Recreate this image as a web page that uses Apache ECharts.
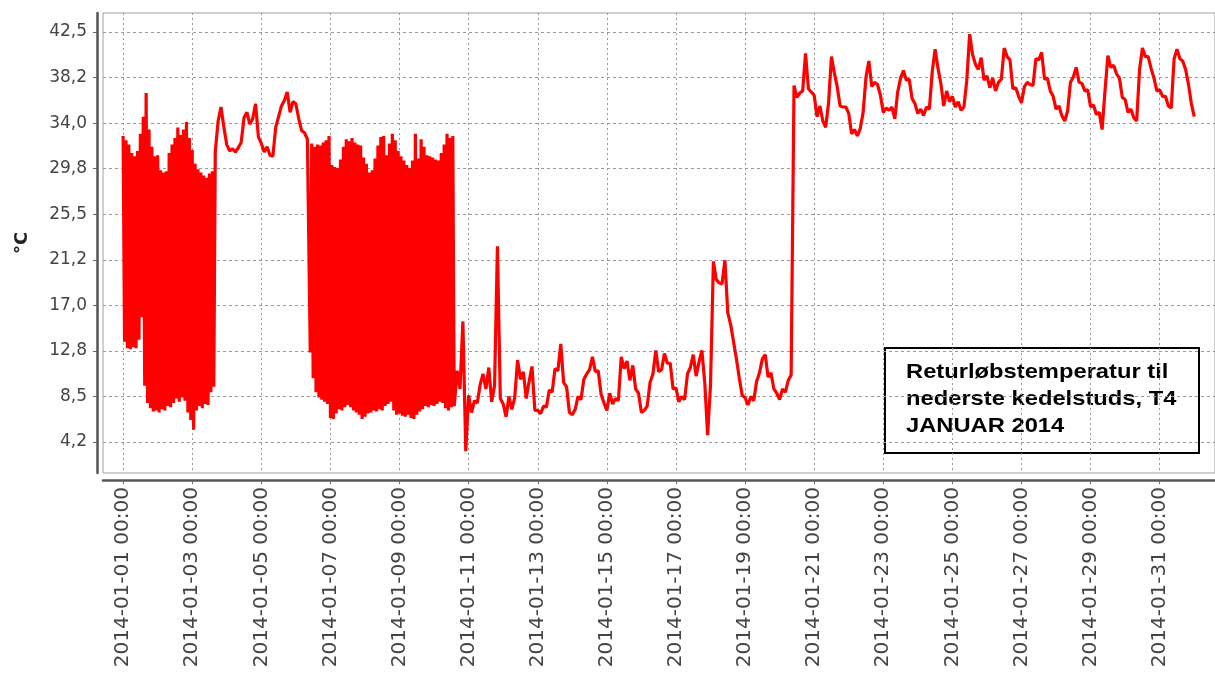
<!DOCTYPE html>
<html>
<head>
<meta charset="utf-8">
<title>Returløbstemperatur T4 januar 2014</title>
<script src="https://cdn.jsdelivr.net/npm/echarts/dist/echarts.min.js"></script>
<style>
html, body { margin: 0; padding: 0; background: #fff; }
#main { width: 1215px; height: 674px; }
</style>
</head>
<body>
<div id="main"></div>
<script>
// måleværdier (°C)
// hver serie: [starttime efter 2014-01-01 00:00, trin i timer, værdier]
var oscJan1 = [32.8, 13.6, 32.4, 13.0, 32.0, 12.9, 31.2, 13.1, 30.9, 13.0,
    31.4, 13.8, 33.0, 15.9, 34.6, 9.5, 36.8, 7.9, 33.4, 7.4,
    31.8, 7.1, 30.9, 7.2, 31.0, 7.0, 29.6, 7.3, 29.4, 7.2,
    29.5, 7.6, 31.2, 7.5, 32.0, 7.9, 32.6, 8.3, 33.6, 8.0,
    32.9, 8.4, 33.4, 8.1, 34.1, 7.0, 32.6, 6.3, 31.5, 5.4,
    30.2, 7.2, 29.7, 7.6, 29.4, 7.4, 29.1, 7.8, 28.9, 7.7,
    29.3, 8.9, 29.5, 9.4];
var warmJan3 = [31.3, 34.2, 35.5, 33.6, 32.0, 31.4, 31.6, 31.3, 31.7, 32.2,
    34.5, 35.0, 33.9, 34.4, 35.8, 32.7, 32.1, 31.3, 31.8, 31.0,
    30.9, 33.6, 34.6, 35.6, 36.1, 36.9, 35.0, 36.0, 35.8, 34.4,
    33.3, 33.1, 32.5];
var oscJan6 = [32.5, 12.6, 32.1, 10.2, 31.8, 8.9, 32.0, 8.4, 31.9, 8.2,
    32.2, 8.0, 32.4, 7.8, 32.8, 6.5, 30.1, 6.4, 29.9, 6.9,
    29.8, 7.3, 30.6, 7.2, 31.8, 7.5, 32.5, 7.7, 32.3, 7.5,
    32.6, 7.2, 32.2, 7.0, 32.0, 6.8, 31.9, 6.4, 30.8, 6.6,
    30.2, 6.9, 29.4, 7.0, 29.6, 7.2, 30.7, 7.1, 31.9, 7.3,
    32.7, 7.2, 32.8, 7.6, 31.0, 7.8, 32.1, 8.0, 33.0, 7.2,
    32.4, 6.8, 31.4, 6.9, 30.9, 6.7, 30.5, 6.6, 30.1, 6.8,
    29.8, 6.5, 30.5, 6.4, 33.0, 6.8, 30.7, 7.1, 32.5, 7.3,
    31.8, 7.6, 31.0, 7.5, 30.9, 7.7, 30.8, 7.6, 30.6, 7.8,
    30.5, 8.0, 31.2, 7.9, 32.0, 7.4, 33.0, 7.2, 32.6, 7.5,
    32.8, 7.6];
var coldJan10 = [10.9, 9.2, 15.5, 3.4, 8.6, 7.0, 8.1, 7.9, 9.6, 10.6,
    9.2, 11.2, 8.0, 9.5, 22.5, 8.3, 7.8, 6.6, 8.5, 7.3,
    8.4, 11.9, 10.1, 10.8, 8.3, 9.9, 11.3, 7.2, 7.2, 6.9,
    7.6, 7.5, 9.1, 8.9, 11.1, 10.9, 13.4, 9.8, 9.4, 7.0,
    6.8, 7.3, 8.5, 8.2, 10.1, 10.6, 11.0, 12.2, 10.8, 10.9,
    8.7, 7.9, 7.2, 8.8, 7.8, 8.3, 8.1, 12.2, 11.1, 11.8,
    10.0, 11.4, 9.2, 8.8, 7.0, 7.2, 7.6, 9.8, 10.6, 12.8,
    10.8, 11.0, 12.5, 11.6, 11.6, 9.2, 9.3, 8.0, 8.5, 8.2,
    10.6, 11.2, 12.4, 10.4, 11.7, 12.8, 9.8, 4.9, 9.6, 21.1,
    19.4, 19.1, 19.0, 21.2, 16.3, 15.2, 13.6, 12.0, 10.2, 8.6,
    8.4, 7.7, 8.5, 8.1, 9.9, 10.7, 12.0, 12.4, 10.3, 10.7,
    9.2, 8.8, 8.2, 9.2, 8.9, 10.0, 10.5];
var warmJan20 = [37.5, 36.4, 36.8, 37.0, 40.5, 37.2, 36.9, 36.6, 34.6, 35.6,
    34.2, 33.6, 35.9, 40.2, 38.7, 37.4, 35.6, 35.5, 35.5, 34.9,
    33.0, 33.4, 32.8, 33.5, 35.0, 38.3, 39.8, 37.4, 37.8, 37.6,
    36.6, 35.0, 35.4, 35.2, 35.5, 34.4, 36.9, 38.2, 38.9, 38.0,
    38.1, 36.3, 35.8, 34.9, 35.3, 34.7, 35.5, 35.3, 38.8, 40.9,
    39.1, 37.7, 35.6, 37.0, 36.0, 36.5, 35.5, 36.0, 35.2, 35.5,
    38.0, 42.3, 40.4, 39.5, 39.0, 40.1, 38.0, 38.4, 37.3, 38.2,
    37.0, 37.8, 38.1, 41.0, 40.2, 39.9, 37.2, 37.3, 36.5, 35.9,
    37.4, 37.8, 37.6, 37.5, 40.0, 39.9, 40.6, 38.1, 38.2, 37.0,
    36.5, 35.3, 35.6, 34.7, 34.2, 35.1, 37.8, 38.3, 39.2, 37.8,
    37.7, 37.0, 37.1, 35.5, 35.7, 34.8, 35.0, 33.4, 37.0, 40.3,
    39.2, 39.4, 38.6, 38.2, 36.4, 36.2, 35.0, 35.3, 34.5, 34.2,
    39.0, 41.0, 40.2, 40.2, 39.1, 38.2, 37.0, 37.1, 36.5, 36.5,
    35.6, 35.4, 40.0, 40.9, 40.0, 39.8, 39.0, 37.6, 35.8, 34.6];

var segments = [[0, 1, oscJan1], [64, 2, warmJan3], [129, 1, oscJan6], [232, 2, coldJan10], [466, 2, warmJan20]];

var xTickDays = [0, 2, 4, 6, 8, 10, 12, 14, 16, 18, 20, 22, 24, 26, 28, 30];
var xTickLabels = ['2014-01-01 00:00', '2014-01-03 00:00', '2014-01-05 00:00', '2014-01-07 00:00',
    '2014-01-09 00:00', '2014-01-11 00:00', '2014-01-13 00:00', '2014-01-15 00:00',
    '2014-01-17 00:00', '2014-01-19 00:00', '2014-01-21 00:00', '2014-01-23 00:00',
    '2014-01-25 00:00', '2014-01-27 00:00', '2014-01-29 00:00', '2014-01-31 00:00'];
var yTicks = [4.25, 8.5, 12.75, 17, 21.25, 25.5, 29.75, 34, 38.25, 42.5];
var yTickLabels = ['4,2', '8,5', '12,8', '17,0', '21,2', '25,5', '29,8', '34,0', '38,2', '42,5'];

var noteLines = ['Returløbstemperatur til', 'nederste kedelstuds, T4', 'JANUAR 2014'];

// x i døgn efter 1. januar
var lineData = [];
segments.forEach(function (seg) {
    for (var i = 0; i < seg[2].length; i++) {
        lineData.push([(seg[0] + i * seg[1]) / 24, seg[2][i]]);
    }
});

var myChart = echarts.init(document.getElementById('main'));
var option = {
    animation: false,
    backgroundColor: '#fff',
    grid: {
        left: 103, top: 13, right: -10, bottom: 201,
        show: true, borderColor: '#a0a0a0', borderWidth: 1, backgroundColor: '#fff'
    },
    xAxis: {
        type: 'value',
        min: -0.582,
        max: 31.6,
        offset: 7,
        axisLine: { show: true, onZero: false, lineStyle: { color: '#555', width: 2.5 } },
        axisTick: { show: true, length: 4, customValues: xTickDays, lineStyle: { color: '#666' } },
        axisLabel: {
            customValues: xTickDays,
            rotate: 90,
            margin: 7,
            fontFamily: 'DejaVu Sans',
            fontSize: 20,
            color: '#444',
            formatter: function (v) {
                var k = xTickDays.indexOf(v);
                return k < 0 ? '' : xTickLabels[k];
            }
        },
        splitLine: { show: true, lineStyle: { color: '#999', width: 1, type: [2, 3] } }
    },
    yAxis: {
        type: 'value',
        min: 1.36,
        max: 44.27,
        offset: 6,
        name: '°C',
        nameLocation: 'middle',
        nameRotate: 90,
        nameGap: 66,
        nameTextStyle: { fontFamily: 'DejaVu Sans', fontWeight: 'bold', fontSize: 18, color: '#222' },
        axisLine: { show: true, onZero: false, lineStyle: { color: '#555', width: 2.5 } },
        axisTick: { show: true, length: 4, customValues: yTicks, lineStyle: { color: '#666' } },
        axisLabel: {
            customValues: yTicks,
            margin: 10,
            fontFamily: 'DejaVu Sans',
            fontSize: 17,
            color: '#444',
            formatter: function (v) {
                var k = yTicks.indexOf(v);
                return k < 0 ? '' : yTickLabels[k];
            }
        },
        splitLine: { show: true, lineStyle: { color: '#999', width: 1, type: [3, 3] } }
    },
    series: [{
        type: 'line',
        data: lineData,
        symbol: 'none',
        sampling: null,
        lineStyle: { color: '#ff0000', width: 3.2, join: 'bevel' },
        z: 3
    }],
    graphic: [{
        type: 'group',
        left: 884,
        top: 347,
        z: 100,
        children: [{
            type: 'rect',
            shape: { x: 0, y: 0, width: 314, height: 105 },
            style: { fill: '#fff', stroke: '#000', lineWidth: 2 }
        }, {
            type: 'text',
            x: 21,
            y: 11,
            scaleX: 1.13,
            style: {
                text: noteLines.join('\n'),
                font: 'bold 21px "Liberation Sans", Arial, sans-serif',
                lineHeight: 27,
                fill: '#000'
            }
        }]
    }]
};
myChart.setOption(option);
</script>
</body>
</html>
